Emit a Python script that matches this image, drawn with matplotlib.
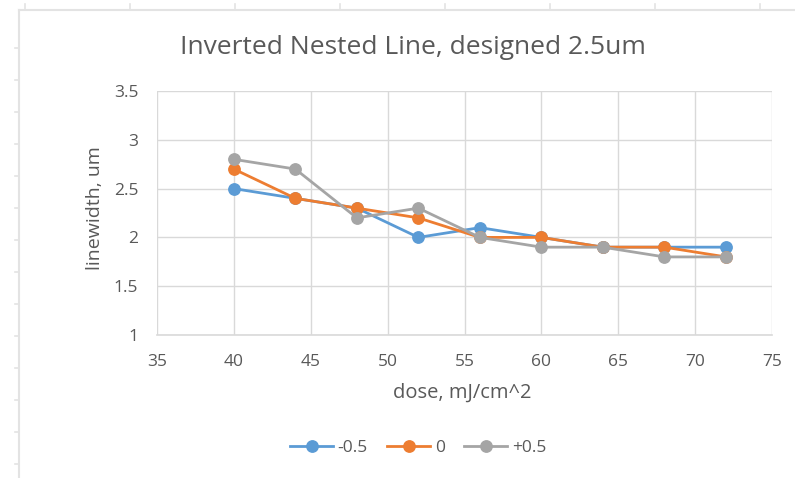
import matplotlib.pyplot as plt
from matplotlib.lines import Line2D

plt.rcParams['font.family'] = ['Open Sans', 'DejaVu Sans']

dose = [40, 44, 48, 52, 56, 60, 64, 68, 72]
lw_neg = [2.5, 2.4, 2.3, 2.0, 2.1, 2.0, 1.9, 1.9, 1.9]
lw_zero = [2.7, 2.4, 2.3, 2.2, 2.0, 2.0, 1.9, 1.9, 1.8]
lw_pos = [2.8, 2.7, 2.2, 2.3, 2.0, 1.9, 1.9, 1.8, 1.8]
labels = ['-0.5', '0', '+0.5']
colors = ['#5B9BD5', '#ED7D31', '#A5A5A5']

txt = '#595959'
grid = '#D9D9D9'
frame = '#E3E3E3'

fig = plt.figure(figsize=(7.95, 4.78), dpi=100)
ax = fig.add_axes([157/795, 1-335/478, 615/795, 244/478])

for ys, lab, c in zip([lw_neg, lw_zero, lw_pos], labels, colors):
    ax.plot(dose, ys, color=c, lw=2.0, marker='o', ms=8.2, label=lab,
            solid_capstyle='round')

ax.set_xlim(35, 75)
ax.set_ylim(1, 3.5)
ax.set_xticks(range(35, 76, 5))
ax.set_yticks([1, 1.5, 2, 2.5, 3, 3.5])
ax.set_yticklabels(['1', '1.5', '2', '2.5', '3', '3.5'])
ax.grid(True, color=grid, lw=1.0)
ax.set_axisbelow(True)
for s in ['top', 'right', 'left']:
    ax.spines[s].set_visible(False)
ax.spines['bottom'].set_color(grid)
ax.spines['bottom'].set_linewidth(1.2)
ax.tick_params(length=0, labelsize=12.5, colors=txt, pad=13.5)

# axis titles placed like the Excel chart
fig.text(462/795, 1-393/478, 'dose, mJ/cm^2', ha='center', va='center',
         fontsize=14.5, color=txt)
fig.text(95/795, 1-208/478, 'linewidth, um', ha='center', va='center',
         rotation=90, fontsize=14, color=txt)
fig.text(413/795, 1-47/478, 'Inverted Nested Line, designed 2.5um',
         ha='center', va='center', fontsize=19, color=txt)

handles = [Line2D([], [], color=c, lw=2.0, marker='o', ms=8.2) for c in colors]
fig.legend(handles, labels, loc='center', bbox_to_anchor=(418/795, 1-448/478),
           ncol=3, frameon=False, fontsize=12.5, labelcolor=txt,
           handlelength=2.5, handletextpad=0.25, columnspacing=1.1)

# spreadsheet frame behind the chart (sheet edge with row/column ticks)
fy = 1 - 10/478
fx = 19/795
fig.add_artist(Line2D([fx, 1], [fy, fy], color=frame, lw=1.5,
                      transform=fig.transFigure))
fig.add_artist(Line2D([fx, fx], [0, fy], color=frame, lw=1.5,
                      transform=fig.transFigure))
for px in range(25, 795, 105):
    fig.add_artist(Line2D([px/795, px/795], [fy, 1-4/478], color=frame, lw=1.2,
                          transform=fig.transFigure))
for py in range(48, 478, 32):
    fig.add_artist(Line2D([15/795, fx], [1-py/478, 1-py/478], color=frame, lw=1.2,
                          transform=fig.transFigure))

fig.savefig('out.png', dpi=100)
